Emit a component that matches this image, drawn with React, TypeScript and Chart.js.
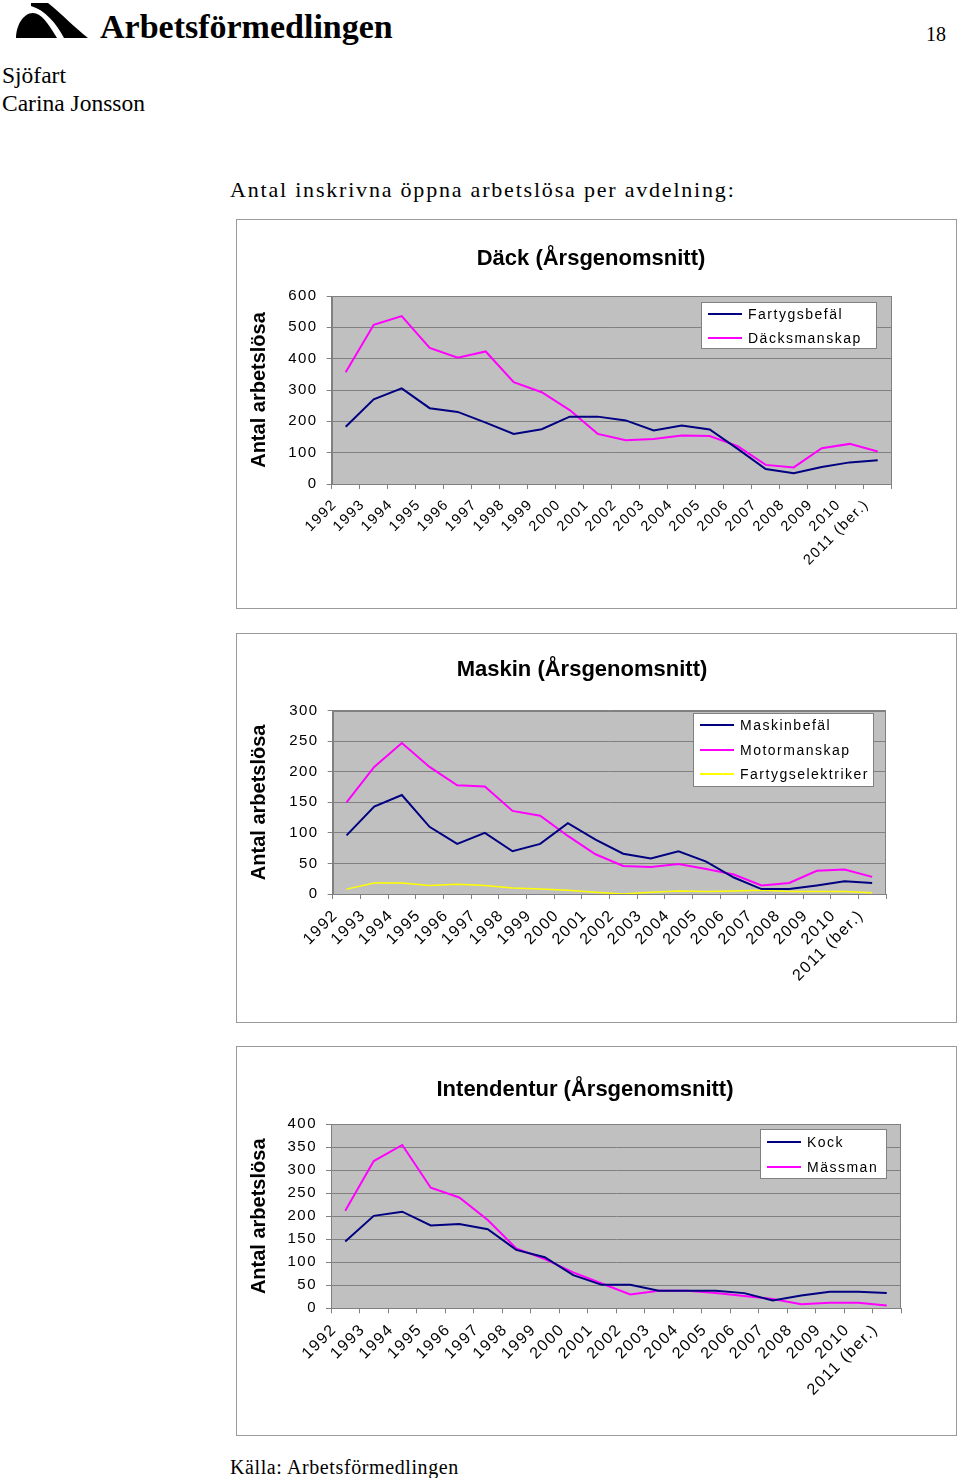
import React, { useEffect, useRef } from 'react';
import { Chart, registerables } from 'chart.js';

Chart.register(...registerables);

// ---------- data ----------
const years = ['1992', '1993', '1994', '1995', '1996', '1997', '1998', '1999', '2000', '2001', '2002', '2003', '2004', '2005', '2006', '2007', '2008', '2009', '2010', '2011 (ber.)'];

const yAxisTitle = 'Antal arbetslösa';

const dackTitle = 'Däck (Årsgenomsnitt)';
const dackTicks = { max: 600, step: 100 };
const fartygsbefal = [183, 270, 305, 242, 230, 196, 160, 175, 215, 215, 203, 171, 187, 174, 112, 48, 34, 54, 69, 76];
const dacksmanskap = [357, 508, 536, 434, 403, 423, 325, 293, 236, 160, 140, 144, 155, 153, 121, 61, 53, 114, 128, 104];

const maskinTitle = 'Maskin (Årsgenomsnitt)';
const maskinTicks = { max: 300, step: 50 };
const maskinbefal = [96, 143, 162, 110, 82, 100, 70, 82, 116, 89, 66, 58, 70, 53, 27, 8, 8, 14, 21, 18];
const motormanskap = [150, 208, 247, 208, 178, 176, 136, 128, 95, 65, 46, 44, 49, 41, 32, 14, 18, 38, 40, 28];
const fartygselektriker = [8, 18, 18, 14, 16, 14, 10, 8, 6, 3, 0, 3, 5, 4, 5, 6, 4, 4, 4, 2];

const intTitle = 'Intendentur (Årsgenomsnitt)';
const intTicks = { max: 400, step: 50 };
const kock = [145, 201, 210, 180, 183, 172, 127, 111, 72, 51, 51, 38, 38, 38, 33, 17, 28, 36, 36, 33];
const massman = [212, 320, 355, 262, 241, 192, 130, 107, 78, 54, 30, 38, 38, 33, 27, 20, 9, 12, 12, 6];

// ---------- styles ----------
const NAVY = '#000080';
const MAGENTA = '#ff00ff';
const YELLOW = '#ffff00';
const GRID = '#808080';
const PLOT_BG = '#c0c0c0';
const SANS = '"Liberation Sans", Arial, Helvetica, sans-serif';
const SERIF = '"Liberation Serif", "Times New Roman", Times, serif';

const BOX_W = 721;
const BOX_H = 390;

// ---------- plugins ----------
const spacingPlugin = {
  id: 'letterSpacingPatch',
  beforeInit(chart: any) {
    const ctx: any = chart.ctx;
    if (ctx.__patched) return;
    ctx.__patched = true;
    const fill = ctx.fillText.bind(ctx);
    const measure = ctx.measureText.bind(ctx);
    const apply = () => {
      try {
        ctx.letterSpacing = /bold/.test(ctx.font) ? '0px' : '1.5px';
      } catch (e) { /* ignore */ }
    };
    ctx.fillText = (t: string, x: number, y: number, m?: number) => {
      apply();
      return m === undefined ? fill(t, x, y) : fill(t, x, y, m);
    };
    ctx.measureText = (t: string) => {
      apply();
      return measure(t);
    };
  },
};

const plotAreaPlugin = {
  id: 'plotArea',
  beforeDraw(chart: any) {
    const { left, top, width, height } = chart.chartArea;
    const ctx = chart.ctx;
    ctx.save();
    ctx.fillStyle = PLOT_BG;
    ctx.fillRect(left, top, width, height);
    ctx.restore();
  },
  beforeDatasetsDraw(chart: any) {
    const { left, top, width, height } = chart.chartArea;
    const ctx = chart.ctx;
    ctx.save();
    ctx.strokeStyle = GRID;
    ctx.lineWidth = 1;
    ctx.strokeRect(Math.round(left) + 0.5, Math.round(top) + 0.5, Math.round(width) - 1, Math.round(height));
    ctx.restore();
  },
};

const boxTitlePlugin = {
  id: 'boxTitle',
  afterDraw(chart: any, _a: any, opts: any) {
    const ctx = chart.ctx;
    ctx.save();
    ctx.font = `bold 22px ${SANS}`;
    ctx.fillStyle = '#000';
    ctx.textAlign = 'center';
    ctx.textBaseline = 'middle';
    ctx.fillText(opts.text, opts.x, opts.y);
    ctx.restore();
  },
};

const boxLegendPlugin = {
  id: 'boxLegend',
  afterDraw(chart: any, _a: any, opts: any) {
    const ctx = chart.ctx;
    const { x, y, w, h, first, row } = opts;
    ctx.save();
    ctx.fillStyle = '#ffffff';
    ctx.fillRect(x, y, w, h);
    ctx.strokeStyle = GRID;
    ctx.lineWidth = 1;
    ctx.strokeRect(x + 0.5, y + 0.5, w - 1, h - 1);
    ctx.font = `14px ${SANS}`;
    ctx.textAlign = 'left';
    ctx.textBaseline = 'middle';
    chart.data.datasets.forEach((ds: any, i: number) => {
      const cy = Math.round(y + first + i * row);
      ctx.strokeStyle = ds.borderColor;
      ctx.lineWidth = 2;
      ctx.beginPath();
      ctx.moveTo(x + 7, cy);
      ctx.lineTo(x + 41, cy);
      ctx.stroke();
      ctx.fillStyle = '#000';
      ctx.fillText(ds.label, x + 47, cy + 1);
    });
    ctx.restore();
  },
};

// ---------- chart specs (layout) ----------
interface SeriesSpec { label: string; data: number[]; color: string; width: number }
interface BoxSpec {
  top: number;
  title: string;
  titleX: number;
  titleY: number;
  ticks: { max: number; step: number };
  xFont: number;
  series: SeriesSpec[];
  plot: { left: number; right: number; top: number; bottom: number };
  legend: { x: number; y: number; w: number; h: number; first: number; row: number };
}

const boxes: BoxSpec[] = [
  {
    top: 219,
    title: dackTitle,
    titleX: 355,
    titleY: 40,
    ticks: dackTicks,
    xFont: 14.5,
    series: [
      { label: 'Fartygsbefäl', data: fartygsbefal, color: NAVY, width: 2 },
      { label: 'Däcksmanskap', data: dacksmanskap, color: MAGENTA, width: 2 },
    ],
    plot: { left: 95.7, right: 655.7, top: 77, bottom: 265 },
    legend: { x: 465, y: 83, w: 176, h: 47, first: 11.5, row: 24 },
  },
  {
    top: 633,
    title: maskinTitle,
    titleX: 346,
    titleY: 37,
    ticks: maskinTicks,
    xFont: 16,
    series: [
      { label: 'Maskinbefäl', data: maskinbefal, color: NAVY, width: 2 },
      { label: 'Motormanskap', data: motormanskap, color: MAGENTA, width: 2 },
      { label: 'Fartygselektriker', data: fartygselektriker, color: YELLOW, width: 1.5 },
    ],
    plot: { left: 96.7, right: 650, top: 77.7, bottom: 261 },
    legend: { x: 457, y: 80, w: 181, h: 74, first: 12, row: 24.5 },
  },
  {
    top: 1046,
    title: intTitle,
    titleX: 349,
    titleY: 44,
    ticks: intTicks,
    xFont: 16,
    series: [
      { label: 'Kock', data: kock, color: NAVY, width: 2 },
      { label: 'Mässman', data: massman, color: MAGENTA, width: 2 },
    ],
    plot: { left: 95, right: 665, top: 78.3, bottom: 262.3 },
    legend: { x: 524, y: 83, w: 127, h: 50, first: 13, row: 24.5 },
  },
];

function ChartBox({ spec }: { spec: BoxSpec }) {
  const ref = useRef<HTMLCanvasElement>(null);

  useEffect(() => {
    if (!ref.current) return;
    const chart = new Chart(ref.current, {
      type: 'line',
      data: {
        labels: years,
        datasets: spec.series.map((s) => ({
          label: s.label,
          data: s.data,
          borderColor: s.color,
          backgroundColor: s.color,
          borderWidth: s.width,
          pointRadius: 0,
          tension: 0,
          fill: false,
        })),
      },
      options: {
        responsive: false,
        animation: false,
        devicePixelRatio: 1,
        layout: {
          padding: { top: spec.plot.top, left: 0, right: BOX_W - spec.plot.right, bottom: 0 },
        },
        plugins: {
          legend: { display: false },
          title: { display: false },
          tooltip: { enabled: false },
          boxTitle: { text: spec.title, x: spec.titleX, y: spec.titleY },
          boxLegend: spec.legend,
        } as any,
        scales: {
          x: {
            type: 'category',
            offset: true,
            grid: {
              offset: true,
              drawOnChartArea: false,
              drawTicks: true,
              tickLength: 5,
              color: GRID,
            },
            border: { display: true, color: GRID },
            ticks: {
              autoSkip: false,
              maxRotation: 45,
              minRotation: 45,
              color: '#000',
              padding: 7,
              labelOffset: -11,
              font: { family: SANS, size: spec.xFont },
            },
            afterFit: (scale: any) => {
              scale.height = BOX_H - spec.plot.bottom;
            },
          },
          y: {
            type: 'linear',
            min: 0,
            max: spec.ticks.max,
            grid: {
              color: GRID,
              drawTicks: true,
              tickLength: 5,
            },
            border: { display: true, color: GRID },
            ticks: {
              stepSize: spec.ticks.step,
              autoSkip: false,
              color: '#000',
              padding: 9,
              font: { family: SANS, size: 15 },
            },
            title: {
              display: true,
              text: yAxisTitle,
              color: '#000',
              font: { family: SANS, size: 20, weight: 'bold' },
              padding: { top: 11, bottom: 0 },
            },
            afterFit: (scale: any) => {
              scale.width = spec.plot.left;
            },
          },
        },
      } as any,
      plugins: [spacingPlugin, plotAreaPlugin, boxTitlePlugin, boxLegendPlugin] as any,
    });
    return () => chart.destroy();
  }, [spec]);

  return (
    <div style={{ position: 'absolute', left: 236, top: spec.top, width: BOX_W, height: BOX_H }}>
      <canvas ref={ref} width={BOX_W} height={BOX_H} style={{ position: 'absolute', left: 0, top: 0, width: BOX_W, height: BOX_H }} />
      <div style={{ position: 'absolute', left: 0, top: 0, right: 0, bottom: 0, border: '1px solid #9a9a9a', pointerEvents: 'none' }} />
    </div>
  );
}

function Logo() {
  return (
    <svg width={100} height={45} viewBox="0 0 100 45" style={{ position: 'absolute', left: 0, top: 0 }}>
      <path d="M16,38 C16,26 23,13 33,13 C41,13 47,22 57,38 Z" fill="#000" />
      <path d="M31,3 L48,3 C62,14 75,28 88,38 L64,38 C56,23 45,10 31,6 Z" fill="#000" />
    </svg>
  );
}

const text = (
  content: string,
  left: number,
  baseline: number,
  size: number,
  extra: React.CSSProperties = {}
) => (
  <div
    style={{
      position: 'absolute',
      left,
      top: baseline - size * 0.891,
      fontFamily: SERIF,
      fontSize: size,
      lineHeight: 'normal',
      whiteSpace: 'nowrap',
      color: '#000',
      ...extra,
    }}
  >
    {content}
  </div>
);

export default function App() {
  return (
    <div style={{ position: 'absolute', left: 0, top: 0, width: 960, height: 1478, background: '#fff', overflow: 'hidden' }}>
      <Logo />
      {text('Arbetsförmedlingen', 100, 38, 34, { fontWeight: 'bold' })}
      {text('18', 926, 41, 20)}
      {text('Sjöfart', 2, 83, 23.5)}
      {text('Carina Jonsson', 2, 111, 23.5)}
      {text('Antal inskrivna öppna arbetslösa per avdelning:', 230, 197, 22, { letterSpacing: '1.8px' })}
      {boxes.map((b, i) => (
        <ChartBox key={i} spec={b} />
      ))}
      {text('Källa: Arbetsförmedlingen', 230, 1474, 20, { letterSpacing: '0.6px' })}
    </div>
  );
}
